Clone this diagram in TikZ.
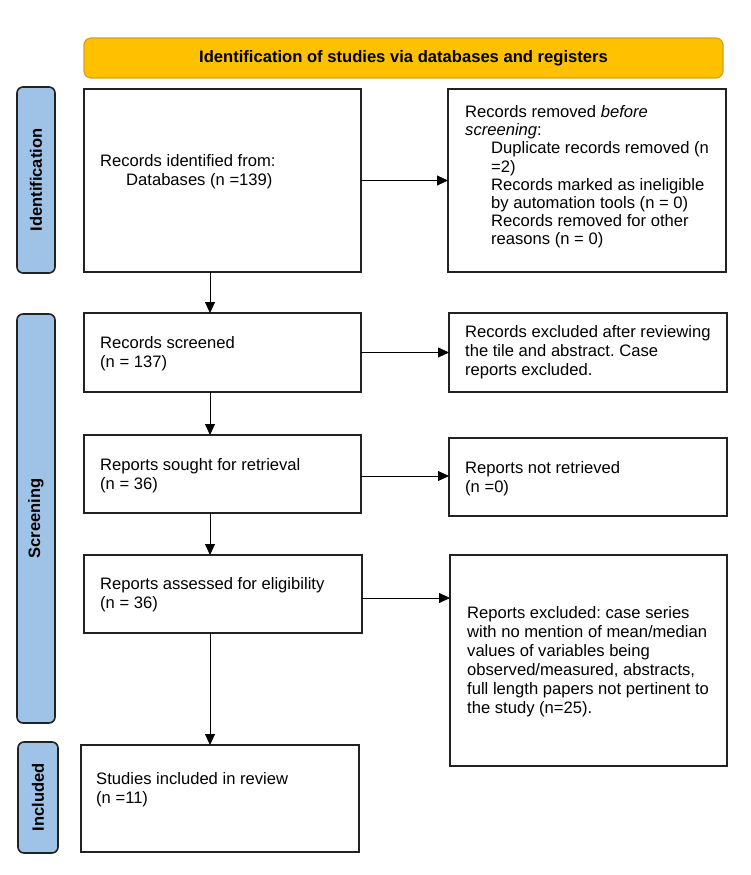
\documentclass[tikz,border=0pt]{standalone}
\usepackage{fontspec}
\setmainfont{Liberation Sans}
\usetikzlibrary{arrows.meta}
\definecolor{hdrfill}{HTML}{FFC000}
\definecolor{hdrline}{HTML}{D4A21C}
\definecolor{sidefill}{HTML}{9FC3E7}
\definecolor{boxline}{HTML}{222222}
\frenchspacing
\begin{document}
\begin{tikzpicture}[x=1pt,y=-1pt,
  box/.style={draw=boxline, line width=1.7pt, inner sep=0pt, outer sep=0pt},
  txt/.style={anchor=west, align=left, inner sep=0pt, font=\fontsize{16.6}{19}\selectfont},
  arr/.style={-{Triangle[length=11pt,width=10pt]}, line width=0.8pt},
  sidebar/.style={draw=boxline, fill=sidefill, rounded corners=6pt, line width=1.6pt, inner sep=0pt},
  sidelbl/.style={rotate=90, inner sep=0pt, font=\bfseries\fontsize{16.5}{19}\selectfont},
  hdr/.style={draw=hdrline, fill=hdrfill, rounded corners=7pt, line width=1.2pt, inner sep=0pt,
    font=\bfseries\fontsize{16.6}{19}\selectfont}]
\useasboundingbox (0,0) rectangle (750,875);

% header
\node[hdr, minimum width=639, minimum height=40] (hdr) at (403.5,58) {Identification of studies via databases and registers};

% side bars
\node[sidebar, minimum width=38, minimum height=186] (sideI) at (36,180) {};
\node[sidelbl] (lblI) at (sideI.center) {Identification};
\node[sidebar, minimum width=38, minimum height=409] (sideS) at (36,518.5) {};
\node[sidelbl] (lblS) at (sideS.center) {Screening};
\node[sidebar, minimum width=40, minimum height=111] (sideN) at (38,797.5) {};
\node[sidelbl] (lblN) at (sideN.center) {Included};

% boxes
\node[box, minimum width=277, minimum height=183] (b1) at (222.5,180.5) {};
\node[box, minimum width=278, minimum height=183] (r1) at (587,180.5) {};
\node[box, minimum width=277, minimum height=79] (b2) at (222.5,352.5) {};
\node[box, minimum width=278, minimum height=79] (r2) at (588,352.5) {};
\node[box, minimum width=277, minimum height=78] (b3) at (222.5,474) {};
\node[box, minimum width=278, minimum height=78] (r3) at (588,477) {};
\node[box, minimum width=278, minimum height=78] (b4) at (223,594) {};
\node[box, minimum width=277, minimum height=211] (r4) at (588.5,660.5) {};
\node[box, minimum width=278, minimum height=107] (b5) at (220,798.5) {};

% texts
\node[txt] (t1) at (100,172) {Records identified from:\\\hspace*{26pt}Databases (n =139)};
\node[txt, font=\fontsize{16.6}{18.2}\selectfont] (tr1) at (465,177) {Records removed \textit{before}\\\textit{screening}:\\
\hspace*{26pt}Duplicate records removed (n\\\hspace*{26pt}=2)\\
\hspace*{26pt}Records marked as ineligible\\\hspace*{26pt}by automation tools (n = 0)\\
\hspace*{26pt}Records removed for other\\\hspace*{26pt}reasons (n = 0)};
\node[txt] (t2) at (100,354) {Records screened\\(n = 137)};
\node[txt] (tr2) at (465,352) {Records excluded after reviewing\\the tile and abstract. Case\\reports excluded.};
\node[txt] (t3) at (100,476) {Reports sought for retrieval\\(n = 36)};
\node[txt] (tr3) at (465,479) {Reports not retrieved\\(n =0)};
\node[txt] (t4) at (100,595) {Reports assessed for eligibility\\(n = 36)};
\node[txt] (tr4) at (467,661.5) {Reports excluded: case series\\with no mention of mean/median\\values of variables being\\observed/measured, abstracts,\\full length papers not pertinent to\\the study (n=25).};
\node[txt] (t5) at (96,789.5) {Studies included in review\\(n =11)};

% connectors
\coordinate (ax) at (210,0);
\draw[arr] (b1.east) -- (r1.west);
\draw[arr] (b2.east) -- (r2.west);
\draw[arr] ([yshift=-2pt]b3.east) -- ([yshift=-2pt]b3.east -| r3.west);
\draw[arr] ([yshift=-4pt]b4.east) -- ([yshift=-4pt]b4.east -| r4.west);
\draw[arr] (b1.south -| ax) -- (b2.north -| ax);
\draw[arr] (b2.south -| ax) -- (b3.north -| ax);
\draw[arr] (b3.south -| ax) -- (b4.north -| ax);
\draw[arr] (b4.south -| ax) -- (b5.north -| ax);
\end{tikzpicture}
\end{document}
